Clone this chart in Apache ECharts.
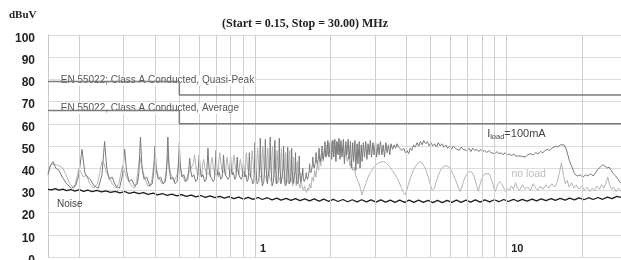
<!DOCTYPE html>
<html>
<head>
<meta charset="utf-8">
<script src="https://cdn.jsdelivr.net/npm/echarts@6/dist/echarts.min.js"></script>
<style>
html, body { margin: 0; padding: 0; background: #fff; }
#chart { width: 621px; height: 260px; }
</style>
</head>
<body>
<div id="chart"></div>
<script>
// frequency in MHz, level in dBuV
var gridFreqs = [0.2, 0.3, 0.4, 0.5, 0.6, 0.7, 0.8, 0.9, 1, 2, 3, 4, 5, 6, 7, 8, 9, 10, 20, 30];

var qpLimit = [[0.15, 79], [0.5, 79], [0.5, 73], [30, 73]];
var avgLimit = [[0.15, 66], [0.5, 66], [0.5, 60], [30, 60]];

var load100mA = [
  [0.150,37],[0.153,41],[0.157,43],[0.161,40],[0.166,39],[0.171,36],[0.178,33],[0.186,31],[0.193,32],
  [0.199,37],[0.205,48.5],[0.210,38],[0.215,36],[0.221,35],[0.229,32],[0.238,31],
  [0.246,37],[0.252,52],[0.257,40],[0.263,35],[0.270,36],[0.279,32],[0.289,31],
  [0.297,37],[0.303,48.5],[0.308,39],[0.315,34],[0.323,35],[0.332,32],[0.340,33],
  [0.345,38],[0.350,54],[0.355,40],[0.362,35],[0.371,36],[0.381,32],[0.390,33],
  [0.395,38],[0.400,50],[0.405,39],[0.412,35],[0.421,36],[0.431,33],[0.440,34],
  [0.445,39],[0.450,54],[0.455,40],[0.462,35],[0.471,36],[0.481,33],[0.490,34],
  [0.495,40],[0.500,51.5],[0.505,40],[0.512,36],[0.521,37],[0.531,34],[0.540,35],
  [0.545,39],[0.550,44.5],[0.555,39],[0.562,36],[0.571,37],[0.581,34],[0.590,35],
  [0.595,40],[0.600,46],[0.605,40],[0.612,36],[0.621,37],[0.631,34],[0.640,35],
  [0.645,41],[0.650,49],[0.655,41],[0.662,37],[0.671,37],[0.681,34],[0.690,35],
  [0.695,41],[0.700,48],[0.705,40],[0.712,37],[0.721,38],[0.731,35],[0.740,36],
  [0.745,40],[0.750,46],[0.755,40],[0.762,37],[0.771,37],[0.781,35],[0.790,36],
  [0.795,40],[0.800,45],[0.805,40],[0.812,37],[0.821,38],[0.831,35],[0.840,36],
  [0.845,40],[0.850,45],[0.855,40],[0.862,37],[0.871,37],[0.881,35],[0.890,36],
  [0.895,39],[0.900,43],[0.905,39],[0.912,36],[0.921,37],[0.931,34],[0.940,35],
  [0.945,40],[0.950,47],[0.955,40],[0.962,36],[0.971,35],[0.981,33],[0.990,34],
  [0.995,40],[1.000,51.5],[1.006,40],[1.020,33],[1.035,34],
  [1.045,41],[1.050,53.5],[1.056,41],[1.070,32],[1.085,34],
  [1.095,42],[1.100,53],[1.106,41],[1.120,33],[1.135,33],
  [1.145,42],[1.150,54],[1.156,42],[1.170,32],[1.185,34],
  [1.195,41],[1.200,52.5],[1.206,41],[1.220,33],[1.235,34],
  [1.245,42],[1.250,53.5],[1.256,41],[1.270,33],[1.285,33],
  [1.295,40],[1.300,50],[1.306,40],[1.320,32],[1.335,33],
  [1.345,40],[1.350,49.5],[1.356,40],[1.370,33],[1.385,34],
  [1.395,40],[1.400,49],[1.406,39],[1.420,33],[1.435,33],
  [1.445,39],[1.450,47],[1.456,38],[1.470,33],[1.485,34],
  [1.495,38],[1.500,45.5],[1.506,38],[1.520,34],[1.535,34],
  [1.545,37],[1.550,40],[1.556,36],[1.570,34],[1.585,35],
  [1.595,36],[1.600,38],[1.606,36],[1.620,35],[1.635,37],
  [1.645,39],[1.650,42],[1.656,39],[1.670,38],[1.685,40],
  [1.695,42],[1.700,45],[1.706,42],[1.720,40],[1.735,42],
  [1.745,44],[1.750,47],[1.756,44],[1.770,42],[1.785,44],
  [1.795,46],[1.800,49],[1.806,45],[1.820,43],[1.835,46],
  [1.845,47],[1.850,50],[1.856,46],[1.870,44],[1.885,47],
  [1.895,49],[1.900,52],[1.906,48],[1.920,45],[1.935,48],
  [1.945,50],[1.950,52.5],[1.956,48],[1.970,45],[1.985,49],
  [2.00,53],[2.02,44],[2.04,52.5],[2.06,45],[2.08,53],[2.10,43],[2.12,52],[2.14,46],[2.16,53.5],[2.18,44],
  [2.20,52.5],[2.22,45],[2.25,53],[2.27,42],[2.30,52],[2.32,46],[2.35,53],[2.37,44],[2.40,52],[2.42,40],
  [2.45,51.5],[2.47,43],[2.50,52.5],[2.52,39],[2.55,51],[2.57,42],[2.60,52],[2.62,40],[2.65,50.5],[2.67,43],
  [2.70,51.5],[2.73,45],[2.76,52],[2.79,44],[2.82,51],[2.85,46],[2.88,52.5],[2.91,45],[2.95,51.5],[2.98,46],
  [3.02,52],[3.05,45],[3.09,51],[3.12,46],[3.16,52],[3.20,46],[3.24,50.5],[3.28,45],[3.32,51.5],[3.36,47],
  [3.40,50.5],[3.44,46],[3.48,51],
  [3.53,48.5],[3.58,50.5],[3.63,49],[3.68,51],[3.73,49.5],[3.79,50],[3.85,48],[3.91,49],[3.97,47],[4.03,48],
  [4.09,46.5],[4.15,49],[4.21,48],[4.28,50.5],[4.35,49.5],[4.42,51.5],[4.49,50],[4.56,52],[4.63,50.5],[4.70,52.5],
  [4.78,51],[4.86,52],[4.94,50],[5.02,51.5],[5.10,50],[5.19,51],[5.28,49.5],[5.37,51.5],[5.46,50],[5.55,51],
  [5.65,49.5],[5.75,50.5],[5.85,49],[5.95,50],[6.05,48.5],[6.16,50],[6.27,49],[6.38,49.5],[6.50,48],[6.62,49.5],
  [6.74,48.5],[6.86,49],[6.98,48],[7.11,49],[7.24,47.5],[7.37,49],[7.50,48],[7.64,48.5],[7.78,47.5],[7.92,48.5],
  [8.07,47.5],[8.22,48],[8.37,47],[8.53,48],[8.69,47],[8.85,47.5],[9.02,46.5],[9.19,47.5],[9.36,46.5],[9.54,47],
  [9.72,46],[9.90,47],
  [10.1,46],[10.3,46.5],[10.5,45.5],[10.7,46.5],[10.9,45.5],[11.1,46],[11.4,45.5],[11.6,46],[11.9,45],[12.2,46],
  [12.5,46.5],[12.8,46],[13.1,47],[13.4,46.5],[13.7,47.5],[14.0,47],[14.3,48],[14.6,48.5],[14.9,48],[15.2,49],
  [15.5,49.5],[15.8,50],[16.1,49.5],[16.4,50.5],[16.7,50],[17.0,50.5],[17.3,49],[17.6,46],[17.9,43],[18.3,40.5],
  [18.7,37.5],[19.2,36.5],[19.7,37],[20.2,36],[20.7,37],[21.2,36.5],[21.7,37.5],[22.2,36.5],[22.7,38],[23.2,39.5],
  [23.7,40.5],[24.2,41.5],[24.7,41],[25.2,40],[25.7,40.5],[26.2,39],[26.7,37.5],[27.3,36.5],[27.9,35],[28.5,33.5],
  [29.2,33],[30,32.5]
];

var noLoad = [
  [0.150,38],[0.153,41],[0.157,42],[0.162,41.5],[0.167,41],[0.172,40],[0.177,37],[0.183,33],[0.190,31],
  [0.195,35],[0.199,40],[0.203,38],[0.208,36],[0.213,37],[0.220,33],[0.228,31],[0.236,33],
  [0.241,38],[0.246,43],[0.251,42],[0.256,38],[0.263,36],[0.270,33],[0.280,31],[0.287,33],
  [0.292,37],[0.297,41],[0.302,39],[0.308,36],[0.315,34],[0.323,32],[0.332,31],[0.338,34],
  [0.343,40],[0.348,45],[0.353,42],[0.359,38],[0.366,35],[0.374,32],[0.383,32],[0.389,35],
  [0.394,40],[0.399,43],[0.405,40],[0.411,37],[0.418,35],[0.426,33],[0.434,33],[0.440,36],
  [0.445,41],[0.450,46],[0.455,42],[0.461,38],[0.468,36],[0.476,34],[0.484,34],[0.490,37],
  [0.495,41],[0.500,44],[0.505,41],[0.511,38],[0.518,36],[0.526,34],[0.534,35],[0.540,37],
  [0.568,42],[0.575,46],[0.582,41],[0.592,37],[0.605,38],[0.615,36],
  [0.618,41],[0.625,44],[0.632,40],[0.642,37],[0.655,38],[0.665,36],
  [0.668,42],[0.675,45],[0.682,41],[0.692,37],[0.705,38],[0.715,36],
  [0.718,43],[0.725,47],[0.732,42],[0.742,38],[0.755,39],[0.765,37],
  [0.768,42],[0.775,45],[0.782,41],[0.792,38],[0.805,39],[0.815,37],
  [0.818,43],[0.825,46],[0.832,42],[0.842,38],[0.855,39],[0.865,37],
  [0.868,42],[0.875,44],[0.882,41],[0.892,38],[0.905,38],[0.915,36],
  [0.918,43],[0.925,47],[0.932,42],[0.942,38],[0.955,38],[0.965,36],
  [0.968,44],[0.975,48],[0.982,43],[0.992,38],[1.005,37],[1.015,35],
  [1.018,44],[1.025,49],[1.032,43],[1.042,37],[1.055,36],[1.065,34],
  [1.068,45],[1.075,50],[1.082,44],[1.092,37],[1.105,36],[1.115,34],
  [1.118,44],[1.125,49],[1.132,43],[1.142,36],[1.155,36],[1.165,34],
  [1.168,45],[1.175,50],[1.182,44],[1.192,37],[1.205,36],[1.215,33],
  [1.218,43],[1.225,48],[1.232,42],[1.242,36],[1.255,35],[1.265,33],
  [1.268,44],[1.275,49],[1.282,43],[1.292,36],[1.305,35],[1.315,33],
  [1.318,42],[1.325,47],[1.332,41],[1.342,35],[1.355,35],[1.365,33],
  [1.368,42],[1.375,48],[1.382,41],[1.392,35],[1.405,34],[1.415,32],
  [1.418,40],[1.425,45],[1.432,39],[1.442,34],[1.455,33],[1.465,32],
  [1.468,38],[1.475,43],[1.482,37],[1.492,33],[1.505,32],[1.515,31],
  [1.518,35],[1.525,38],[1.532,34],[1.545,31],[1.560,30],[1.575,32],[1.590,30],[1.605,29],[1.620,31],[1.635,30],
  [1.65,33],[1.67,31],[1.69,36],[1.71,34],[1.73,39],[1.75,36],[1.77,42],[1.79,39],[1.81,45],[1.83,41],
  [1.85,47],[1.87,43],[1.89,49],[1.91,45],[1.93,50.5],[1.95,46],[1.97,51.5],[1.99,47],[2.01,52],[2.03,47.5],
  [2.06,52.5],[2.09,48],[2.12,52],[2.15,47],[2.18,51],[2.21,46],[2.24,50],[2.27,44.5],[2.30,48],[2.33,43],
  [2.36,46],[2.39,41],[2.42,43.5],[2.45,39],[2.48,40.5],[2.52,36.5],[2.56,36],[2.60,33],[2.64,30],[2.67,28],
  [2.71,30.5],[2.76,33],[2.82,36],[2.88,38],[2.95,40],[3.03,41.5],[3.12,42.5],[3.22,43],[3.32,42.5],[3.42,41],
  [3.52,39],[3.62,37],[3.72,34.5],[3.82,31.5],[3.90,29],[3.96,28],[4.02,30],[4.10,33.5],[4.20,37],[4.31,40],
  [4.43,42],[4.54,43],[4.66,42],[4.78,39.5],[4.90,36],[5.01,32],[5.08,30],[5.12,29.5],[5.18,31],[5.27,34],
  [5.38,37],[5.50,39.5],[5.65,41],[5.82,41],[5.98,40],[6.14,37.5],[6.30,34.5],[6.44,31.5],[6.56,29.5],[6.64,31],
  [6.76,34],[6.90,36.5],[7.05,38],[7.19,38.6],[7.33,38],[7.47,36],[7.60,33],[7.70,30.5],[7.74,29.5],[7.82,31.5],
  [7.95,34.5],[8.10,36.5],[8.25,37.5],[8.40,38],[8.55,37.5],[8.70,35.5],[8.85,33],[8.96,30.5],[9.04,29.5],[9.14,31],
  [9.28,33],[9.42,34],[9.55,33.5],[9.70,32],[9.85,30.5],[9.95,29.5],
  [10.1,31],[10.3,30],[10.5,32],[10.7,30.5],[10.9,33.5],[11.1,31],[11.3,30],[11.6,32.5],[11.9,30.5],[12.2,31.5],
  [12.5,30],[12.8,33],[13.1,31],[13.4,30],[13.7,32],[14.0,30.5],[14.4,32.5],[14.8,31],[15.2,33],[15.6,31.5],
  [16.0,34],[16.3,38],[16.6,42.5],[16.9,37],[17.2,33],[17.5,34.5],[17.8,31.5],[18.2,33.5],[18.6,31],[19.0,32.5],
  [19.5,30.5],[20.0,32],[20.5,30],[21.0,31.5],[21.5,29.5],[22.0,31],[22.5,30],[23.0,32],[23.5,30.5],[24.0,32.5],
  [24.5,31],[25.0,33.5],[25.4,36],[25.8,32.5],[26.3,30.5],[26.8,31.5],[27.4,29.5],[28.0,31],[28.7,29.5],[29.4,30.5],
  [30,30]
];

var noise = [
  [0.150,30.5],[0.155,30.2],[0.160,30.8],[0.166,30.1],[0.172,30.6],[0.178,29.9],[0.185,30.4],[0.192,29.7],
  [0.200,30.3],[0.208,29.6],[0.216,30.1],[0.225,29.4],[0.235,30],[0.245,29.3],[0.255,29.8],[0.266,29.1],
  [0.278,29.6],[0.290,28.9],[0.303,29.5],[0.316,28.7],[0.330,29.2],[0.345,28.5],[0.360,29],[0.376,28.2],
  [0.393,28.8],[0.410,28],[0.428,28.6],[0.447,27.8],[0.467,28.3],[0.488,27.5],[0.510,28.1],[0.533,27.3],
  [0.557,27.9],[0.582,27.1],[0.608,27.7],[0.635,26.9],[0.663,27.5],[0.693,26.7],[0.724,27.3],[0.756,26.5],
  [0.790,27.2],[0.825,26.3],[0.862,27],[0.900,26.1],[0.940,26.9],[0.982,26],[1.03,26.8],[1.07,25.9],
  [1.12,26.7],[1.17,25.7],[1.22,26.5],[1.27,25.6],[1.33,26.4],[1.39,25.5],[1.45,26.3],[1.51,25.4],
  [1.58,26.2],[1.65,25.3],[1.72,26.2],[1.80,25.2],[1.88,26.1],[1.96,25.1],[2.05,26],[2.14,25],
  [2.24,25.9],[2.34,24.9],[2.44,25.8],[2.55,24.8],[2.66,25.8],[2.78,24.8],[2.90,25.7],[3.03,24.7],
  [3.17,25.7],[3.31,24.7],[3.46,25.6],[3.61,24.6],[3.77,25.6],[3.94,24.6],[4.11,25.6],[4.29,24.6],
  [4.48,25.6],[4.68,24.6],[4.89,25.5],[5.11,24.5],[5.33,25.5],[5.57,24.5],[5.82,25.5],[6.07,24.6],
  [6.34,25.6],[6.62,24.6],[6.92,25.6],[7.22,24.7],[7.54,25.7],[7.88,24.7],[8.22,25.7],[8.59,24.8],
  [8.97,25.8],[9.36,24.9],[9.78,25.9],[10.2,25],[10.7,26],[11.1,25.1],[11.6,26],[12.1,25.2],
  [12.7,26.1],[13.2,25.3],[13.8,26.2],[14.4,25.4],[15.1,26.3],[15.7,25.5],[16.4,26.4],[17.2,25.6],
  [17.9,26.5],[18.7,25.7],[19.5,26.6],[20.4,25.8],[21.3,26.7],[22.2,25.9],[23.2,26.8],[24.2,26],
  [25.3,27],[26.4,26.3],[27.6,27.3],[28.8,26.8],[30,27.5]
];

var chart = echarts.init(document.getElementById('chart'), null, { renderer: 'canvas' });

function textMark(coord, label) {
  return {
    symbol: 'circle',
    symbolSize: 0,
    silent: true,
    animation: false,
    data: [{ coord: coord, value: 0 }],
    label: label
  };
}

var sans = '"Liberation Sans", Arial, sans-serif';

var option = {
  animation: false,
  backgroundColor: '#fff',
  grid: { left: 48, top: 35, width: 578, height: 222, outerBoundsMode: 'none', containLabel: false },
  graphic: [
    {
      type: 'text', x: 9, y: 15,
      style: { text: 'dBuV', font: 'bold 11px "Liberation Serif"', fill: '#222', align: 'left', verticalAlign: 'middle' }
    },
    {
      type: 'text', x: 305, y: 24,
      style: { text: '(Start = 0.15, Stop = 30.00) MHz', font: 'bold 12px "Liberation Serif"', fill: '#222', align: 'center', verticalAlign: 'middle' }
    }
  ],
  xAxis: {
    type: 'log',
    logBase: 10,
    min: 0.15,
    max: 30,
    axisLine: { show: false },
    axisTick: { show: false },
    splitLine: { show: false },
    axisLabel: {
      inside: true,
      margin: 3,
      showMinLabel: false,
      showMaxLabel: false,
      align: 'left',
      padding: [0, 0, 0, 5],
      color: '#222',
      fontWeight: 'bold',
      fontSize: 11,
      fontFamily: sans
    }
  },
  yAxis: {
    type: 'value',
    min: 0,
    max: 100,
    interval: 10,
    axisLine: { show: true, lineStyle: { color: '#c8c8c8', width: 1 } },
    axisTick: { show: false },
    splitLine: { lineStyle: { color: '#dcdcdc', width: 1 } },
    axisLabel: {
      margin: 13,
      verticalAlign: 'top',
      lineHeight: 7,
      color: '#222',
      fontWeight: 'bold',
      fontSize: 12,
      fontFamily: sans
    }
  },
  series: [
    {
      name: 'grid',
      type: 'line',
      data: [],
      z: 1,
      markLine: {
        silent: true,
        animation: false,
        symbol: ['none', 'none'],
        label: { show: false },
        lineStyle: { color: '#cfcfcf', width: 1, type: 'solid' },
        data: gridFreqs.map(function (f) { return { xAxis: f }; })
      }
    },
    {
      name: 'no load',
      type: 'line',
      data: noLoad,
      showSymbol: false,
      z: 2,
      lineStyle: { color: '#b4b4b4', width: 1 },
      markPoint: textMark([10.5, 37.4], {
        show: true, position: 'right', distance: 0,
        formatter: 'no load', color: '#bdbdbd', fontSize: 10.5, fontFamily: sans
      })
    },
    {
      name: 'Iload=100mA',
      type: 'line',
      data: load100mA,
      showSymbol: false,
      z: 3,
      lineStyle: { color: '#7a7a7a', width: 1 },
      markPoint: textMark([8.4, 55.3], {
        show: true, position: 'right', distance: 0,
        formatter: '{a|I}{s|load}{a|=100mA}',
        rich: {
          a: { color: '#444', fontSize: 11, fontFamily: sans },
          s: { color: '#444', fontSize: 7.5, padding: [5, 0, 0, 0], fontFamily: sans }
        }
      })
    },
    {
      name: 'Noise',
      type: 'line',
      data: noise,
      showSymbol: false,
      z: 4,
      lineStyle: { color: '#1e1e1e', width: 1.3 },
      markPoint: textMark([0.163, 23.9], {
        show: true, position: 'right', distance: 0,
        formatter: 'Noise', color: '#444', fontSize: 10, fontFamily: sans
      })
    },
    {
      name: 'QP limit',
      type: 'line',
      data: qpLimit,
      showSymbol: false,
      z: 5,
      lineStyle: { color: '#7c7c7c', width: 1.5 },
      markPoint: textMark([0.164, 79.4], {
        show: true, position: 'right', distance: 2,
        formatter: 'EN 55022; Class A Conducted, Quasi-Peak',
        color: '#555', fontSize: 10, backgroundColor: '#fff', padding: [0, 1], fontFamily: sans
      })
    },
    {
      name: 'AV limit',
      type: 'line',
      data: avgLimit,
      showSymbol: false,
      z: 5,
      lineStyle: { color: '#7c7c7c', width: 1.5 },
      markPoint: textMark([0.164, 66.8], {
        show: true, position: 'right', distance: 2,
        formatter: 'EN 55022, Class A Conducted, Average',
        color: '#555', fontSize: 10, backgroundColor: '#fff', padding: [0, 1], fontFamily: sans
      })
    }
  ]
};

chart.setOption(option);
</script>
</body>
</html>
